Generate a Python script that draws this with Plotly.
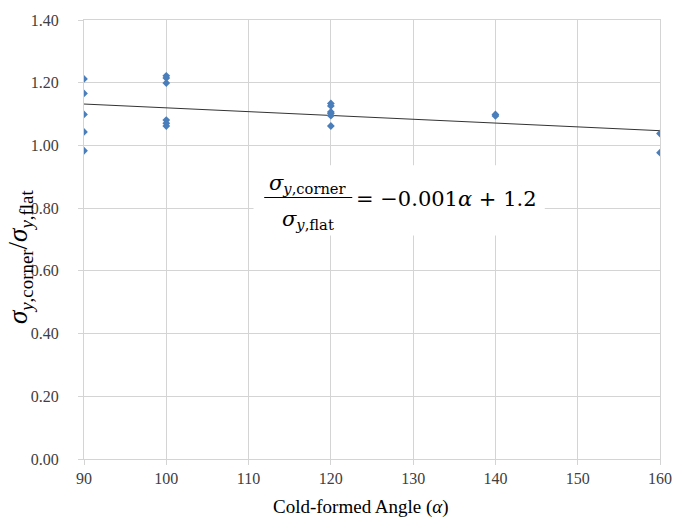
import plotly.graph_objects as go

# data
angle_90 = [90, 90, 90, 90, 90]
ratio_90 = [1.212, 1.166, 1.099, 1.043, 0.983]
angle_100 = [100, 100, 100, 100, 100, 100]
ratio_100 = [1.222, 1.215, 1.199, 1.081, 1.071, 1.062]
angle_120 = [120, 120, 120, 120, 120, 120]
ratio_120 = [1.134, 1.126, 1.107, 1.102, 1.095, 1.062]
angle_140 = [140, 140]
ratio_140 = [1.099, 1.094]
angle_160 = [160, 160]
ratio_160 = [1.038, 0.977]

trend_x = [90, 160]
trend_y = [1.132, 1.047]

x_ticks = [90, 100, 110, 120, 130, 140, 150, 160]
y_ticks = [0.0, 0.2, 0.4, 0.6, 0.8, 1.0, 1.2, 1.4]
y_tick_labels = ["0.00", "0.20", "0.40", "0.60", "0.80", "1.00", "1.20", "1.40"]

xs = angle_90 + angle_100 + angle_120 + angle_140 + angle_160
ys = ratio_90 + ratio_100 + ratio_120 + ratio_140 + ratio_160

SERIF = "Liberation Serif"
grid = "#d4d4d4"

fig = go.Figure()
fig.add_trace(go.Scatter(x=trend_x, y=trend_y, mode="lines",
                         line=dict(color="#333333", width=1), showlegend=False, hoverinfo="skip"))
fig.add_trace(go.Scatter(x=xs, y=ys, mode="markers",
                         marker=dict(symbol="diamond", size=6, color="#4a7ebb"),
                         showlegend=False))

fig.update_layout(
    width=676, height=523,
    margin=dict(l=84, r=16, t=20, b=64, autoexpand=False),
    paper_bgcolor="white", plot_bgcolor="white",
    font=dict(family=SERIF, size=16, color="#404040"),
    xaxis=dict(range=[90, 160], tickvals=x_ticks, showgrid=True, gridcolor=grid, gridwidth=1,
               zeroline=False, showline=True, linecolor=grid, linewidth=1, mirror=True,
               ticks="outside", ticklen=5, tickcolor=grid, automargin=False,
               tickfont=dict(family=SERIF, size=16, color="#404040")),
    yaxis=dict(range=[0, 1.4], tickvals=y_ticks, ticktext=y_tick_labels, showgrid=True,
               gridcolor=grid, gridwidth=1, zeroline=False, showline=True, linecolor=grid,
               linewidth=1, mirror=True, ticks="outside", ticklen=5, tickcolor=grid,
               ticklabelstandoff=16, automargin=False,
               tickfont=dict(family=SERIF, size=16, color="#404040")),
)

# white box behind the equation
fig.add_shape(type="rect", xref="x", yref="y", x0=110.6, x1=146.0, y0=0.713, y1=0.937,
              fillcolor="white", line=dict(width=0), layer="above")
# fraction bar
fig.add_shape(type="line", xref="x", yref="y", x0=111.9, x1=122.6, y0=0.834, y1=0.834,
              line=dict(color="black", width=1.2), layer="above")

EQ = "DejaVu Serif"
fig.add_annotation(x=117.2, y=0.876, xref="x", yref="y", showarrow=False,
                   text="<i>σ</i><sub><i>y</i>,corner</sub>",
                   font=dict(family=EQ, size=21, color="black"))
fig.add_annotation(x=117.2, y=0.762, xref="x", yref="y", showarrow=False,
                   text="<i>σ</i><sub><i>y</i>,flat</sub>",
                   font=dict(family=EQ, size=21, color="black"))
fig.add_annotation(x=122.8, y=0.828, xref="x", yref="y", showarrow=False, xanchor="left",
                   text="= −0.001<i>α</i> + 1.2",
                   font=dict(family=EQ, size=21, color="black"))

# axis titles
fig.add_annotation(x=0.481, y=-0.11, xref="paper", yref="paper", showarrow=False,
                   xanchor="center", yanchor="middle",
                   text="Cold-formed Angle (<i>α</i>)",
                   font=dict(family=SERIF, size=19, color="black"))
fig.add_annotation(x=-0.111, y=0.46, xref="paper", yref="paper", showarrow=False,
                   textangle=-90, xanchor="center", yanchor="middle",
                   text="<i>σ</i><sub><i>y</i>,corner</sub>/<i>σ</i><sub><i>y</i>,flat</sub>",
                   font=dict(family=SERIF, size=27, color="black"))

# remove the default 8px page margin so the 676x523 figure fills the window
fig.write_html("out.html", config={"displayModeBar": False},
               post_script="document.body.style.margin='0px';")
